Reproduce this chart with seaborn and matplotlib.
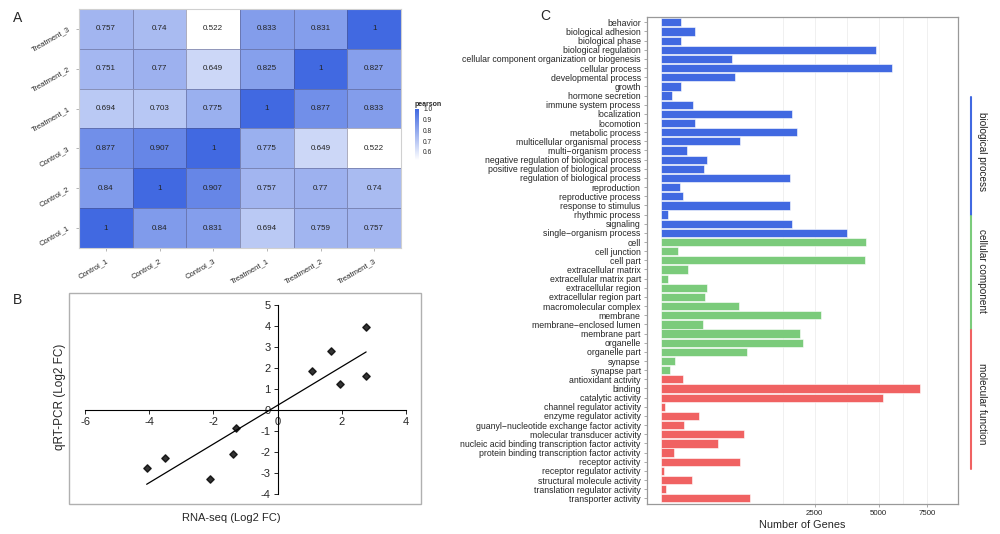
import numpy as np
import pandas as pd
import matplotlib
matplotlib.use("Agg")
import matplotlib.pyplot as plt
import seaborn as sns
from matplotlib.colors import LinearSegmentedColormap
from matplotlib.patches import Rectangle
from matplotlib.lines import Line2D

sns.set_style("white")
plt.rcParams['font.family'] = ['Liberation Sans', 'DejaVu Sans']
plt.rcParams['axes.unicode_minus'] = False

#%% ======================= data =======================
# A: pearson correlation between samples
samples = ["Control_1", "Control_2", "Control_3", "Treatment_1", "Treatment_2", "Treatment_3"]
pearson = [
    [1, 0.84, 0.831, 0.694, 0.759, 0.757],
    [0.84, 1, 0.907, 0.757, 0.77, 0.74],
    [0.877, 0.907, 1, 0.775, 0.649, 0.522],
    [0.694, 0.703, 0.775, 1, 0.877, 0.833],
    [0.751, 0.77, 0.649, 0.825, 1, 0.827],
    [0.757, 0.74, 0.522, 0.833, 0.831, 1],
]

# B: RNA-seq vs qRT-PCR
rna_seq = [-4.08, -3.51, -2.12, -1.39, -1.31, 1.07, 1.66, 1.95, 2.76, 2.75]
qrt_pcr = [-2.80, -2.30, -3.30, -2.13, -0.85, 1.84, 2.83, 1.23, 3.96, 1.61]

# C: GO classification
bp_terms = ["behavior", "biological adhesion", "biological phase", "biological regulation",
            "cellular component organization or biogenesis", "cellular process",
            "developmental process", "growth", "hormone secretion", "immune system process",
            "localization", "locomotion", "metabolic process", "multicellular organismal process",
            "multi\u2212organism process", "negative regulation of biological process",
            "positive regulation of biological process", "regulation of biological process",
            "reproduction", "reproductive process", "response to stimulus", "rhythmic process",
            "signaling", "single\u2212organism process"]
bp_genes = [42, 124, 43, 4873, 540, 5625, 582, 43, 13, 108, 1809, 122, 1950, 658, 73,
            229, 195, 1754, 38, 51, 1750, 6, 1826, 3647]

cc_terms = ["cell", "cell junction", "cell part", "extracellular matrix", "extracellular matrix part",
            "extracellular region", "extracellular region part", "macromolecular complex",
            "membrane", "membrane\u2212enclosed lumen", "membrane part", "organelle",
            "organelle part", "synapse", "synapse part"]
cc_genes = [4430, 30, 4420, 80, 5, 223, 204, 651, 2709, 191, 2046, 2144, 791, 22, 10]

mf_terms = ["antioxidant activity", "binding", "catalytic activity", "channel regulator activity",
            "enzyme regulator activity", "guanyl\u2212nucleotide exchange factor activity",
            "molecular transducer activity", "nucleic acid binding transcription factor activity",
            "protein binding transcription factor activity", "receptor activity",
            "receptor regulator activity", "structural molecule activity",
            "translation regulator activity", "transporter activity"]
mf_genes = [51, 7088, 5195, 2, 155, 59, 737, 350, 20, 658, 1, 103, 3, 846]

categories = ["biological process", "cellular component", "molecular function"]
cat_colors = ["#4169E1", "#7BCB7B", "#F06262"]

fig = plt.figure(figsize=(10, 5.34), dpi=100)

#%% ======================= A: heatmap =======================
corr = pd.DataFrame(pearson, index=samples, columns=samples).iloc[::-1]
ax_a = fig.add_axes([0.079, 0.5356, 0.322, 0.4476])
cax = fig.add_axes([0.4145, 0.700, 0.0045, 0.096])
cmap = LinearSegmentedColormap.from_list("pear", ["white", "#4169E1"])
sns.heatmap(corr, ax=ax_a, cmap=cmap, vmin=0.522, vmax=1, annot=True, fmt="g",
            annot_kws={"size": 5.8, "color": "#222222"},
            linewidths=0.5, linecolor=(0.3, 0.3, 0.45, 0.45), cbar_ax=cax)
ax_a.tick_params(bottom=True, left=True, length=2, width=0.5, color="#999999",
                 labelsize=5.5, pad=5)
for lb in ax_a.get_xticklabels():
    lb.set_rotation(30)
    lb.set_ha("right")
    lb.set_rotation_mode("anchor")
for lb in ax_a.get_yticklabels():
    lb.set_rotation(30)
    lb.set_ha("right")
    lb.set_va("center")
    lb.set_rotation_mode("anchor")
for sp in ax_a.spines.values():
    sp.set_visible(True)
    sp.set_color("#D0D0D0")
    sp.set_linewidth(0.8)
cb = ax_a.collections[0].colorbar
cb.set_ticks([0.6, 0.7, 0.8, 0.9, 1.0])
cb.ax.tick_params(labelsize=4.8, length=1.5, color="white", pad=1.5)
cb.outline.set_visible(False)
cax.set_title("pearson", fontsize=5, fontweight="bold", loc="left", pad=2)

#%% ======================= B: scatter =======================
ax_b = fig.add_axes([0.069, 0.0562, 0.352, 0.395])
sns.regplot(x=rna_seq, y=qrt_pcr, ax=ax_b, ci=None, marker="D", color="black",
            scatter_kws=dict(s=14, zorder=3), line_kws=dict(color="black", lw=0.9))
ax_b.set_xlim(-6.5, 4.47)
ax_b.set_ylim(-4.5, 5.58)
ax_b.spines["left"].set_position(("data", 0))
ax_b.spines["bottom"].set_position(("data", 0))
ax_b.spines["left"].set_bounds(-4, 5)
ax_b.spines["bottom"].set_bounds(-6, 4)
for s in ["left", "bottom"]:
    ax_b.spines[s].set_color("black")
    ax_b.spines[s].set_linewidth(0.8)
ax_b.spines["top"].set_visible(False)
ax_b.spines["right"].set_visible(False)
ax_b.set_xticks(range(-6, 5, 2))
ax_b.set_yticks(range(-4, 6))
ax_b.tick_params(bottom=True, left=True, direction="out", length=3, width=0.7,
                 labelsize=8, pad=2)
ax_b.add_patch(Rectangle((0, 0), 1, 1, transform=ax_b.transAxes, fill=False,
                         edgecolor="#B0B0B0", lw=1.0, clip_on=False))
fig.text(0.231, 1 - 518 / 534, "RNA-seq (Log2 FC)", ha="center", va="center", fontsize=8)
fig.text(0.060, 1 - 397 / 534, "qRT-PCR (Log2 FC)", ha="center", va="center",
         fontsize=8.5, rotation=90)

#%% ======================= C: GO bars =======================
df = pd.DataFrame({
    "term": bp_terms + cc_terms + mf_terms,
    "genes": bp_genes + cc_genes + mf_genes,
    "category": [categories[0]] * len(bp_terms) + [categories[1]] * len(cc_terms)
                + [categories[2]] * len(mf_terms),
})
ax_c = fig.add_axes([0.647, 0.0562, 0.311, 0.9114])
sns.barplot(data=df, x="genes", y="term", hue="category", hue_order=categories,
            palette=cat_colors, saturation=1, dodge=False, orient="h", ax=ax_c, width=0.9,
            edgecolor="white", linewidth=0.4, legend=False)


def fwd(v):
    return np.sign(v) * np.sqrt(np.abs(v))


def inv(s):
    return np.sign(s) * s ** 2


ax_c.set_xscale("function", functions=(fwd, inv))
ax_c.set_xlim(-19.8, 9315)
major = np.array([2500, 5000, 7500])
sq = np.sqrt(major)
mids = (sq[:-1] + sq[1:]) / 2
minor = np.r_[sq[0] - (mids[0] - sq[0]), mids] ** 2
ax_c.set_xticks(major)
ax_c.set_xticklabels([str(m) for m in major])
ax_c.set_xticks(minor, minor=True)
ax_c.grid(axis="x", which="both", color="#EEEEEE", lw=0.6)
ax_c.set_axisbelow(True)
ax_c.set_ylim(len(df) - 1 + 0.62, -0.55)
ax_c.tick_params(axis="y", left=True, length=2.5, width=0.5, color="#888888",
                 labelsize=6.3, pad=2)
ax_c.tick_params(axis="x", which="major", bottom=True, length=2.5, width=0.5,
                 color="#888888", labelsize=5.7, pad=2)
ax_c.tick_params(axis="x", which="minor", bottom=False)
ax_c.set_ylabel("")
ax_c.set_xlabel("Number of Genes", fontsize=7.8, labelpad=2)
for sp in ax_c.spines.values():
    sp.set_visible(True)
    sp.set_color("#999999")
    sp.set_linewidth(0.9)

# category strips on the right
strip_x = 970.7 / 1000
strips = [(96.7, 216), (216, 330), (330, 469)]
text_y = [152, 271, 404]
for (y0, y1), ty, name, col in zip(strips, text_y, categories, cat_colors):
    fig.add_artist(Line2D([strip_x, strip_x], [1 - y0 / 534, 1 - y1 / 534],
                          color=col, lw=1.5))
    fig.text(0.982, 1 - ty / 534, name, rotation=-90, ha="center", va="center",
             fontsize=7.2, color="#222222")

# panel letters
fig.text(0.013, 1 - 18 / 534, "A", fontsize=10, va="center")
fig.text(0.013, 1 - 300 / 534, "B", fontsize=10, va="center")
fig.text(0.540, 1 - 16 / 534, "C", fontsize=10, va="center")

fig.savefig("out.png", dpi=100)
